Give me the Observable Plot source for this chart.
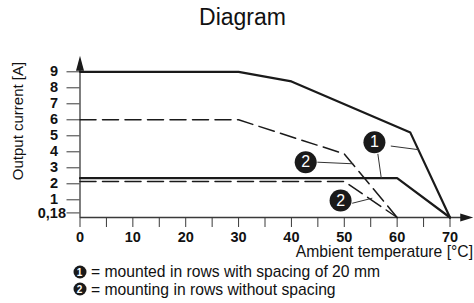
<!DOCTYPE html>
<html>
<head>
<meta charset="utf-8">
<script src="https://cdn.jsdelivr.net/npm/d3@7"></script>
<script src="https://cdn.jsdelivr.net/npm/@observablehq/plot@0.6"></script>
<style>
  html, body { margin: 0; padding: 0; background: #fff; }
  #wrap { position: relative; width: 474px; height: 303px; overflow: hidden; font-family: "Liberation Sans", Arial, sans-serif; color: #111; }
  #wrap svg { position: absolute; left: 0; top: 0; }
  .lbl { position: absolute; white-space: nowrap; line-height: 1; }
  .badge { position: absolute; width: 13px; height: 13px; border-radius: 50%; background: #1a1a1a; color: #fff; font-size: 10px; font-weight: bold; line-height: 13px; text-align: center; transform: translate(-50%, -50%); }
</style>
</head>
<body>
<div id="wrap"></div>
<script>
// ---- data ----
const title = "Diagram";
const xLabel = "Ambient temperature [°C]";
const yLabel = "Output current [A]";
const legendKeys = ["1", "2"];
const legendTexts = ["= mounted in rows with spacing of 20 mm", "= mounting in rows without spacing"];

// curve 1 (spacing 20 mm), solid
const temps1a = [0, 30, 40, 62.5, 70];
const amps1a = [9, 9, 8.4, 5.2, 0.18];
const temps1b = [0, 60, 70];
const amps1b = [2.35, 2.35, 0.18];
// curve 2 (no spacing), dashed
const temps2a = [0, 30, 50, 60];
const amps2a = [6, 6, 3.87, 0.18];
const temps2b = [0, 50, 60];
const amps2b = [2.15, 2.15, 0.18];

// axis ticks
const yTicks = [1, 2, 3, 4, 5, 6, 7, 8, 9];
const yBase = 0.18;
const yBaseLabel = "0,18";
const xTicks = [0, 5, 10, 15, 20, 25, 30, 35, 40, 45, 50, 55, 60, 65, 70];
const xTickLabels = [0, 10, 20, 30, 40, 50, 60, 70];
const xAxisEnd = 74.4;
const yAxisEnd = 10;

// callouts
const calloutLabels = ["1", "2", "2"];
const calloutX = [55.7, 42.7, 49.3];
const calloutY = [4.6, 3.35, 0.97];
const leaderX1 = [58.8, 56.35, 44.9, 51.5];
const leaderY1 = [4.36, 3.87, 3.35, 0.84];
const leaderX2 = [64.1, 57.0, 51.7, 55.3];
const leaderY2 = [4.13, 2.35, 3.25, 1.1];

// ---- build tables ----
const toRows = (xs, ys) => xs.map((x, i) => ({x, y: ys[i]}));
const callouts = calloutLabels.map((l, i) => ({l, x: calloutX[i], y: calloutY[i]}));
const leaders = leaderX1.map((x1, i) => ({x1, y1: leaderY1[i], x2: leaderX2[i], y2: leaderY2[i]}));
const axisLines = [
  {x1: 0, y1: yBase, x2: xAxisEnd - 1.5, y2: yBase},
  {x1: 0, y1: yBase, x2: 0, y2: yAxisEnd - 0.6}
];

// the chart's y axis is stretched below 1 A (0,18 sits lower than a linear axis would put it)
const yStretch = v => (v >= 1 ? v : 1 - (1 - v) * 1.349);

const arrowHead = (len, half) => ({
  draw(ctx) { ctx.moveTo(0, 0); ctx.lineTo(half, len); ctx.lineTo(-half, len); ctx.closePath(); }
});

const ink = "#1a1a1a";
const axisInk = "#3a3a3a";

const chart = Plot.plot({
  width: 474,
  height: 303,
  marginLeft: 79.5,
  marginRight: 24.5,
  marginTop: 55.3,
  marginBottom: 86,
  style: {fontFamily: "'Liberation Sans', Arial, sans-serif", fontSize: "14.5px", color: "#111", background: "transparent", overflow: "visible"},
  x: {domain: [0, 70]},
  y: {transform: yStretch},
  marks: [
    Plot.link(axisLines, {x1: "x1", y1: "y1", x2: "x2", y2: "y2", stroke: axisInk, strokeWidth: 1.3}),
    Plot.dot([{x: 0, y: yAxisEnd}], {x: "x", y: "y", symbol: arrowHead(15, 4), fill: ink, stroke: null}),
    Plot.dot([{x: xAxisEnd, y: yBase}], {x: "x", y: "y", symbol: arrowHead(13, 4), rotate: 90, fill: ink, stroke: null}),
    Plot.axisY({ticks: yTicks, tickSize: 13, tickPadding: 9, fontSize: 14.5, fontWeight: "bold", stroke: axisInk, fill: "#111", label: null}),
    Plot.axisY({ticks: [yBase], tickFormat: () => yBaseLabel, tickSize: 13, tickPadding: 1, fontSize: 14.5, fontWeight: "bold", stroke: axisInk, fill: "#111", label: null}),
    Plot.axisX({ticks: xTicks, tickSize: 10, tickPadding: 4.5, tickFormat: d => xTickLabels.includes(d) ? String(d) : "", fontSize: 14.5, fontWeight: "bold", stroke: axisInk, fill: "#111", label: null}),
    Plot.line(toRows(temps1a, amps1a), {x: "x", y: "y", stroke: ink, strokeWidth: 2.2}),
    Plot.line(toRows(temps1b, amps1b), {x: "x", y: "y", stroke: ink, strokeWidth: 2.2}),
    Plot.line(toRows(temps2a, amps2a), {x: "x", y: "y", stroke: ink, strokeWidth: 1.5, strokeDasharray: "16,6.5"}),
    Plot.line(toRows(temps2b, amps2b), {x: "x", y: "y", stroke: ink, strokeWidth: 1.5, strokeDasharray: "16,6.5"}),
    Plot.link(leaders, {x1: "x1", y1: "y1", x2: "x2", y2: "y2", stroke: "#333", strokeWidth: 1}),
    Plot.dot(callouts, {x: "x", y: "y", r: 11, fill: ink, stroke: null}),
    Plot.text(callouts, {x: "x", y: "y", text: "l", fill: "#fff", fontSize: 16, fontWeight: "normal"})
  ]
});

const wrap = document.getElementById("wrap");
wrap.appendChild(chart);

function addLabel(text, css) {
  const d = document.createElement("div");
  d.className = "lbl";
  d.textContent = text;
  Object.assign(d.style, css);
  wrap.appendChild(d);
  return d;
}
addLabel(title, {left: "242.5px", top: "5.5px", fontSize: "23px", transform: "translateX(-50%)"});
addLabel(yLabel, {left: "17px", top: "121px", fontSize: "15px", transform: "translate(-50%, -50%) rotate(-90deg)"});
addLabel(xLabel, {right: "1px", top: "244px", fontSize: "15.7px"});

const legendY = [271.7, 289.3];
legendKeys.forEach((k, i) => {
  const b = document.createElement("div");
  b.className = "badge";
  b.textContent = k;
  b.style.left = "79.5px";
  b.style.top = legendY[i] + "px";
  wrap.appendChild(b);
  addLabel(legendTexts[i], {left: "91px", top: (legendY[i] - 7.7) + "px", fontSize: "15.7px"});
});
</script>
</body>
</html>
